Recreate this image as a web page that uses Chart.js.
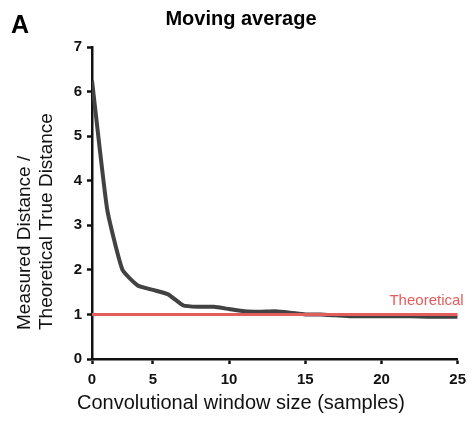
<!DOCTYPE html>
<html>
<head>
<meta charset="utf-8">
<script src="https://cdn.jsdelivr.net/npm/chart.js@4"></script>
<style>
  html, body { margin: 0; padding: 0; background: #fff; }
  #wrap { width: 473px; height: 423px; position: relative; }
</style>
</head>
<body>
<div id="wrap"><canvas id="chart"></canvas></div>
<script>
// window sizes and measured / theoretical distance ratio
const windowSizes = [1, 2, 3, 4, 5, 6, 7, 8, 9, 10, 11, 12, 13, 14, 15, 16, 17, 18, 19, 20, 21, 22, 23, 24, 25];
const measuredRatio = [6.25, 3.35, 2.0, 1.65, 1.55, 1.45, 1.2, 1.17, 1.17, 1.12, 1.07, 1.06, 1.07, 1.04, 1.0, 1.0, 0.98, 0.96, 0.96, 0.96, 0.96, 0.96, 0.95, 0.95, 0.95];
const theoreticalX = [1, 25];
const theoreticalY = [1, 1];

const xTickValues = [1, 5, 10, 15, 20, 25];
const xTickLabels = ["0", "5", "10", "15", "20", "25"];
const yTickValues = [0, 1, 2, 3, 4, 5, 6, 7];

const titleText = "Moving average";
const panelLetter = "A";
const xTitle = "Convolutional window size (samples)";
const yTitle = ["Measured Distance /", "Theoretical True Distance"];
const theoreticalLabel = "Theoretical";

const FONT = "Arial, 'Liberation Sans', Helvetica, sans-serif";

canvas = document.getElementById("chart");
ctx = canvas.getContext("2d");

const textPlugin = {
    id: "extraText",
    afterDraw(chart) {
        const c = chart.ctx;
        const xs = chart.scales.x;
        const ys = chart.scales.y;
        c.save();
        c.fillStyle = "#000";
        c.textBaseline = "alphabetic";

        c.font = "bold 25px " + FONT;
        c.textAlign = "left";
        c.fillText(panelLetter, 11, 33);

        c.font = "bold 20px " + FONT;
        c.textAlign = "center";
        c.fillText(titleText, 241, 25);

        // x title, centred on the whole figure rather than the axis
        c.font = "20px " + FONT;
        c.fillStyle = "#111";
        c.fillText(xTitle, 241, 409);

        // y title, two lines, start aligned at the bottom
        c.font = "19px " + FONT;
        c.textAlign = "left";
        c.save();
        c.translate(30, 330);
        c.rotate(-Math.PI / 2);
        c.fillText(yTitle[0], 0, 0);
        c.fillText(yTitle[1], 0, 22);
        c.restore();

        c.font = "15px " + FONT;
        c.fillStyle = "#e35d5d";
        c.textAlign = "right";
        c.fillText(theoreticalLabel, xs.getPixelForValue(25) + 6, ys.getPixelForValue(1) - 9);
        c.restore();
    }
};

const chart = new Chart(ctx, {
    type: "line",
    data: {
        datasets: [
            {
                label: "Theoretical",
                data: theoreticalX.map((x, i) => ({ x: x, y: theoreticalY[i] })),
                borderColor: "#e35d5d",
                borderWidth: 3,
                pointRadius: 0,
                order: 0
            },
            {
                label: "Measured",
                data: windowSizes.map((x, i) => ({ x: x, y: measuredRatio[i] })),
                borderColor: "#424242",
                borderWidth: 4,
                pointRadius: 0,
                tension: 0.15,
                borderJoinStyle: "round",
                order: 1
            }
        ]
    },
    options: {
        responsive: true,
        maintainAspectRatio: false,
        animation: false,
        layout: { padding: { top: 47, right: 12, left: 0, bottom: 0 } },
        plugins: {
            legend: { display: false },
            tooltip: { enabled: false }
        },
        scales: {
            x: {
                type: "linear",
                min: 1,
                max: 25,
                afterBuildTicks: (scale) => {
                    scale.ticks = xTickValues.map(v => ({ value: v }));
                },
                afterFit: (scale) => { scale.height = 64; },
                ticks: {
                    autoSkip: false,
                    maxRotation: 0,
                    padding: 7,
                    color: "#111",
                    font: { family: FONT, size: 15, weight: "bold" },
                    callback: (value) => xTickLabels[xTickValues.indexOf(value)]
                },
                grid: { drawOnChartArea: false, tickLength: 5, tickColor: "#111", tickWidth: 2.5 },
                border: { color: "#111", width: 2.5 }
            },
            y: {
                min: 0,
                max: 7,
                afterBuildTicks: (scale) => {
                    scale.ticks = yTickValues.map(v => ({ value: v }));
                },
                afterFit: (scale) => { scale.width = 92; },
                ticks: {
                    padding: 5,
                    color: "#111",
                    font: { family: FONT, size: 15, weight: "bold" }
                },
                grid: { drawOnChartArea: false, tickLength: 5, tickColor: "#111", tickWidth: 2.5 },
                border: { color: "#111", width: 2.5 }
            }
        }
    },
    plugins: [textPlugin]
});
</script>
</body>
</html>
